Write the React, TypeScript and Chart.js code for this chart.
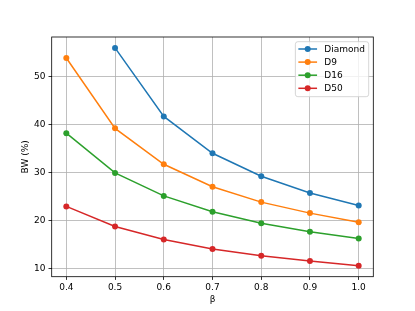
import React, { useEffect, useRef } from "react";
import { Chart, registerables } from "chart.js";

Chart.register(...registerables);

const betas = [0.4, 0.5, 0.6, 0.7, 0.8, 0.9, 1.0];
const seriesNames = ["Diamond", "D9", "D16", "D50"];
const diamond: (number | null)[] = [null, 56.0, 41.7, 34.0, 29.2, 25.7, 23.1];
const d9 = [53.9, 39.2, 31.7, 27.0, 23.8, 21.5, 19.6];
const d16 = [38.2, 29.9, 25.1, 21.8, 19.4, 17.6, 16.2];
const d50 = [22.9, 18.7, 16.0, 14.0, 12.6, 11.5, 10.5];
const colors = ["#1f77b4", "#ff7f0e", "#2ca02c", "#d62728"];
const xTicks = [0.4, 0.5, 0.6, 0.7, 0.8, 0.9, 1.0];
const yTicks = [10, 20, 30, 40, 50];
const xLabel = "β";
const yLabel = "BW (%)";

const FONT = '"DejaVu Sans", sans-serif';

const framePlugin = {
  id: "frame",
  afterDatasetsDraw(chart: any) {
    const { ctx, chartArea: ca } = chart;
    ctx.save();
    ctx.strokeStyle = "#000";
    ctx.lineWidth = 0.8;
    ctx.strokeRect(ca.left, ca.top, ca.right - ca.left, ca.bottom - ca.top);
    ctx.restore();
  },
};

const legendPlugin = {
  id: "mplLegend",
  afterDraw(chart: any) {
    const { ctx, chartArea: ca } = chart;
    ctx.save();
    ctx.font = `9px ${FONT}`;
    const textW = Math.max(...seriesNames.map((n) => ctx.measureText(n).width));
    const boxRight = ca.right - 4.6;
    const boxTop = ca.top + 4.7;
    const boxW = 29 + textW + 3.7;
    const boxH = 55;
    const boxLeft = boxRight - boxW;
    ctx.beginPath();
    if ((ctx as any).roundRect) (ctx as any).roundRect(boxLeft, boxTop, boxW, boxH, 2.5);
    else ctx.rect(boxLeft, boxTop, boxW, boxH);
    ctx.fillStyle = "rgba(255,255,255,0.8)";
    ctx.fill();
    ctx.strokeStyle = "#cccccc";
    ctx.lineWidth = 0.8;
    ctx.stroke();
    seriesNames.forEach((name, i) => {
      const y = boxTop + 7.3 + i * 13.1;
      const x0 = boxLeft + 3;
      const x1 = boxLeft + 21.7;
      ctx.strokeStyle = colors[i];
      ctx.lineWidth = 1.5;
      ctx.beginPath();
      ctx.moveTo(x0, y);
      ctx.lineTo(x1, y);
      ctx.stroke();
      ctx.fillStyle = colors[i];
      ctx.beginPath();
      ctx.arc((x0 + x1) / 2, y, 3, 0, Math.PI * 2);
      ctx.fill();
      ctx.fillStyle = "#000";
      ctx.textBaseline = "middle";
      ctx.textAlign = "left";
      ctx.fillText(name, boxLeft + 29, y + 0.5);
    });
    ctx.restore();
  },
};

export default function App() {
  const ref = useRef<HTMLCanvasElement | null>(null);
  useEffect(() => {
    if (!ref.current) return;
    const allSeries = [diamond, d9, d16, d50];
    const chart = new Chart(ref.current, {
      type: "line",
      data: {
        datasets: allSeries.map((s, i) => ({
          label: seriesNames[i],
          data: betas.map((b, j) => ({ x: b, y: s[j] as any })),
          borderColor: colors[i],
          backgroundColor: colors[i],
          pointBackgroundColor: colors[i],
          pointBorderWidth: 0,
          pointRadius: 3,
          borderWidth: 1.5,
          tension: 0,
          fill: false,
        })),
      },
      options: {
        animation: false,
        responsive: false,
        devicePixelRatio: 1,
        layout: { padding: { top: 37, right: 41.7, left: 0, bottom: 0 } },
        plugins: {
          legend: { display: false },
          tooltip: { enabled: false },
        },
        scales: {
          x: {
            type: "linear",
            min: 0.37,
            max: 1.03,
            afterBuildTicks: (s: any) => {
              s.ticks = xTicks.map((v) => ({ value: v }));
            },
            afterFit: (s: any) => {
              s.height = 34.3;
            },
            ticks: {
              font: { family: FONT, size: 9 },
              color: "#000",
              padding: 2,
              maxRotation: 0,
              autoSkip: false,
              callback: (v: any) => Number(v).toFixed(1),
            },
            grid: {
              color: "#b0b0b0",
              lineWidth: 0.8,
              tickColor: "#000",
              tickLength: 3.2,
              tickWidth: 0.8,
            },
            border: { display: false },
            title: {
              display: true,
              text: xLabel,
              font: { family: FONT, size: 9 },
              color: "#000",
              padding: { top: 0, bottom: 5.6 },
            },
          },
          y: {
            type: "linear",
            min: 8.225,
            max: 58.275,
            afterBuildTicks: (s: any) => {
              s.ticks = yTicks.map((v) => ({ value: v }));
            },
            afterFit: (s: any) => {
              s.width = 51.7;
            },
            ticks: {
              font: { family: FONT, size: 9 },
              color: "#000",
              padding: 3,
              autoSkip: false,
              callback: (v: any) => String(v),
            },
            grid: {
              color: "#b0b0b0",
              lineWidth: 0.8,
              tickColor: "#000",
              tickLength: 3.2,
              tickWidth: 0.8,
            },
            border: { display: false },
            title: {
              display: true,
              text: yLabel,
              font: { family: FONT, size: 9 },
              color: "#000",
              padding: { top: 20.4, bottom: 0 },
            },
          },
        },
      } as any,
      plugins: [framePlugin, legendPlugin],
    });
    return () => chart.destroy();
  }, []);
  return (
    <div style={{ position: "absolute", left: 0, top: 0, width: 415, height: 311, background: "#fff" }}>
      <canvas ref={ref} width={415} height={311} style={{ display: "block", width: 415, height: 311 }} />
    </div>
  );
}
